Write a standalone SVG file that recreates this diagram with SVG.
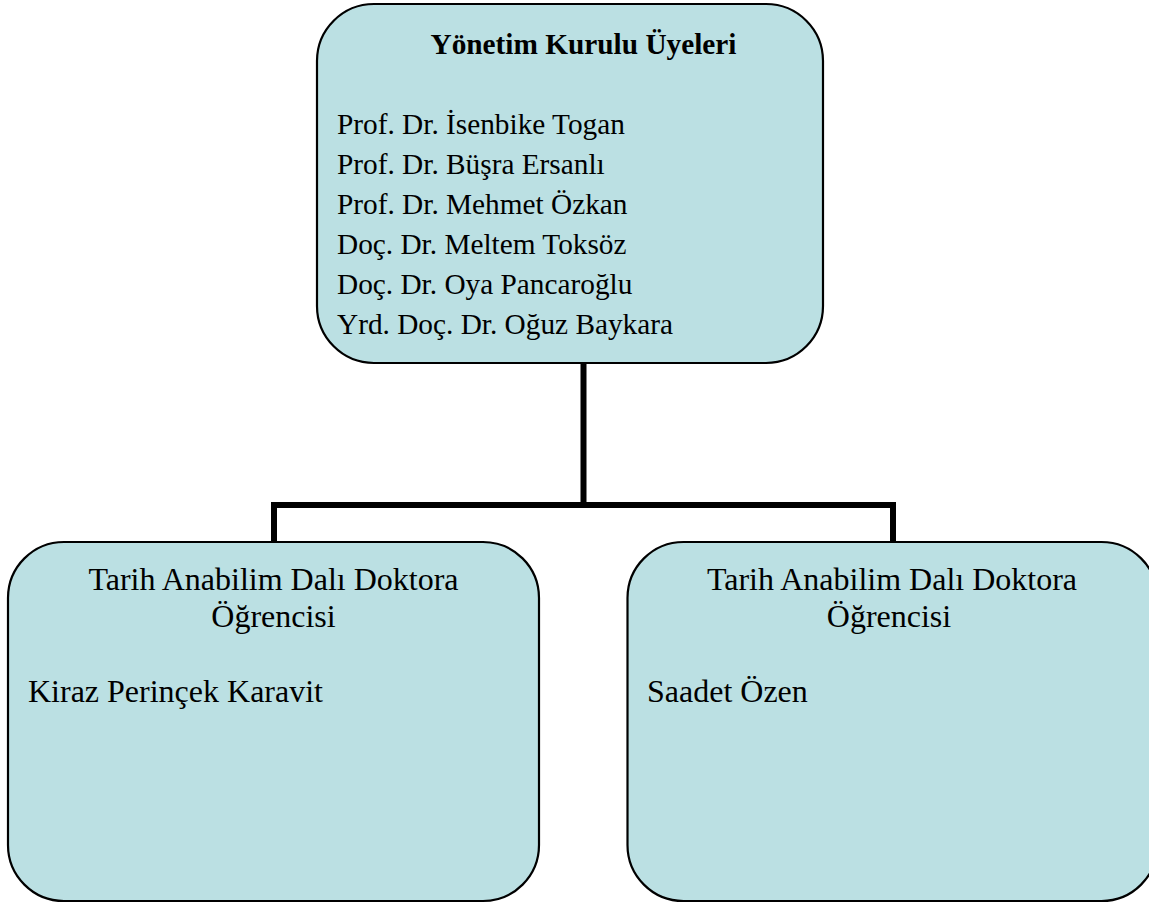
<svg xmlns="http://www.w3.org/2000/svg" width="1149" height="906" viewBox="0 0 1149 906">
  <style>
    .box { fill: #BBE0E3; stroke: #000000; stroke-width: 2.2; }
    .conn { stroke: #000000; stroke-width: 6; fill: none; stroke-linecap: butt; stroke-linejoin: miter; }
    .t { font-family: "Liberation Serif", "Times New Roman", serif; fill: #000000; }
    .top { font-size: 29.3px; }
    .title { font-size: 29.3px; font-weight: bold; }
    .bot { font-size: 32px; }
  </style>
  <rect width="1149" height="906" fill="#ffffff"/>
  <g id="connectors">
    <path class="conn" d="M583.5,363 V505"/>
    <path class="conn" d="M274,542 V505 H893 V542"/>
  </g>
  <g id="node-board">
    <rect class="box" x="317" y="4" width="506" height="359" rx="57" ry="57"/>
    <text class="t title" x="583.5" y="54" text-anchor="middle">Yönetim Kurulu Üyeleri</text>
    <text class="t top" x="337" y="134">Prof. Dr. İsenbike Togan</text>
    <text class="t top" x="337" y="174">Prof. Dr. Büşra Ersanlı</text>
    <text class="t top" x="337" y="214">Prof. Dr. Mehmet Özkan</text>
    <text class="t top" x="337" y="254">Doç. Dr. Meltem Toksöz</text>
    <text class="t top" x="337" y="294">Doç. Dr. Oya Pancaroğlu</text>
    <text class="t top" x="337" y="334">Yrd. Doç. Dr. Oğuz Baykara</text>
  </g>
  <g id="node-student-left">
    <rect class="box" x="8" y="542" width="531" height="359" rx="56" ry="56"/>
    <text class="t bot" x="273.5" y="590" text-anchor="middle">Tarih Anabilim Dalı Doktora</text>
    <text class="t bot" x="273.5" y="627" text-anchor="middle">Öğrencisi</text>
    <text class="t bot" x="28" y="702">Kiraz Perinçek Karavit</text>
  </g>
  <g id="node-student-right">
    <rect class="box" x="627.5" y="542" width="530" height="359" rx="56" ry="56"/>
    <text class="t bot" x="892" y="590" text-anchor="middle">Tarih Anabilim Dalı Doktora</text>
    <text class="t bot" x="889" y="627" text-anchor="middle">Öğrencisi</text>
    <text class="t bot" x="647" y="702">Saadet Özen</text>
  </g>
</svg>
